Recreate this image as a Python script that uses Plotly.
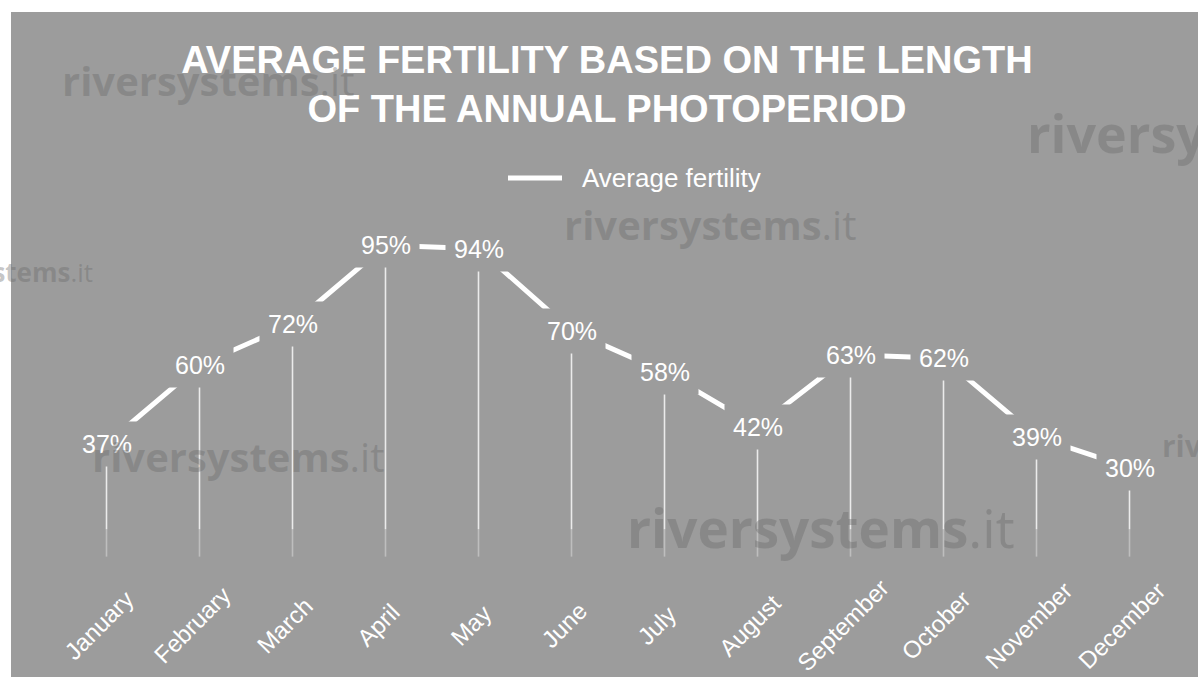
import plotly.graph_objects as go

# ---- data ----
months = ["January", "February", "March", "April", "May", "June",
          "July", "August", "September", "October", "November", "December"]
fertility = [37, 60, 72, 95, 94, 70, 58, 42, 63, 62, 39, 30]
series_name = "Average fertility"
title_text = "AVERAGE FERTILITY BASED ON THE LENGTH<br>OF THE ANNUAL PHOTOPERIOD"

W, H = 1198, 677
PANEL = "#9c9c9c"
FONT = "Liberation Sans, Arial, Helvetica, sans-serif"

fig = go.Figure()

# drop lines (upper part and faded lower part)
dx, dy, fx, fy = [], [], [], []
for m, v in zip(months, fertility):
    dx += [m, m, None]
    dy += [v, 12, None]
    fx += [m, m, None]
    fy += [12, 4, None]
fig.add_trace(go.Scatter(x=dx, y=dy, mode="lines", hoverinfo="skip",
                         line=dict(color="rgba(255,255,255,0.8)", width=1.6),
                         showlegend=False))
fig.add_trace(go.Scatter(x=fx, y=fy, mode="lines", hoverinfo="skip",
                         line=dict(color="rgba(255,255,255,0.35)", width=1.6),
                         showlegend=False))

# main line
fig.add_trace(go.Scatter(x=months, y=fertility, mode="lines", name=series_name,
                         line=dict(color="white", width=5), showlegend=False))

annotations = []
# data labels with panel-coloured background (creates the gaps in the line)
for m, v in zip(months, fertility):
    annotations.append(dict(x=m, y=v, xref="x", yref="y", text=f"{v}%",
                            showarrow=False, xanchor="center", yanchor="middle",
                            bgcolor=PANEL, borderpad=8,
                            font=dict(family=FONT, size=25, color="white")))

# category labels, rotated around their centre below each month
for m in months:
    annotations.append(dict(x=m, y=1 - 625 / H, xref="x", yref="paper",
                            text=m, showarrow=False, textangle=-45,
                            xanchor="center", yanchor="middle", xshift=-8,
                            font=dict(family=FONT, size=24, color="white")))

# manual legend text
annotations.append(dict(x=580 / W, y=1 - 178 / H, xref="paper", yref="paper",
                        text=series_name, showarrow=False, xanchor="left",
                        yanchor="middle",
                        font=dict(family=FONT, size=26, color="white")))

# watermarks
WM = "rgba(105,105,105,0.38)"
WMF = "Open Sans, DejaVu Sans, sans-serif"
wm_list = [
    (60, 80, 40, "left"),
    (1025, 132, 52, "left"),
    (562, 225, 40, "left"),
    (95, 272, 26, "right"),
    (90, 456, 40, "left"),
    (625, 527, 53, "left"),
    (1160, 445, 30, "left"),
]
for x, y, s, anc in wm_list:
    annotations.append(dict(x=x / W, y=1 - y / H, xref="paper", yref="paper",
                            text="<b>riversystems</b>.it", showarrow=False,
                            xanchor=anc, yanchor="middle",
                            font=dict(family=WMF, size=s, color=WM)))

shapes = [
    dict(type="rect", xref="paper", yref="paper", x0=11 / W, x1=1.01,
         y0=-0.01, y1=1 - 12 / H, fillcolor=PANEL, line=dict(width=0),
         layer="below"),
    dict(type="line", xref="paper", yref="paper", x0=508 / W, x1=562 / W,
         y0=1 - 178 / H, y1=1 - 178 / H, line=dict(color="white", width=5)),
]

fig.update_layout(
    width=W, height=H,
    paper_bgcolor="white", plot_bgcolor="rgba(0,0,0,0)",
    margin=dict(l=0, r=0, t=0, b=0, autoexpand=False),
    title=dict(text=title_text, x=607 / W, xanchor="center",
               y=1 - 73 / H, yanchor="top", yref="container",
               font=dict(family=FONT, size=38, color="white", weight="bold")),
    xaxis=dict(type="category", range=[-0.5, 11.5], showgrid=False,
               domain=[60 / W, 1 - 22 / W], showticklabels=False,
               zeroline=False, showline=False, ticks=""),
    yaxis=dict(range=[-4, 110], visible=False, showgrid=False, zeroline=False,
               domain=[93 / H, 1 - 194 / H]),
    showlegend=False,
    annotations=annotations,
    shapes=shapes,
)

fig.write_html("out.html")
